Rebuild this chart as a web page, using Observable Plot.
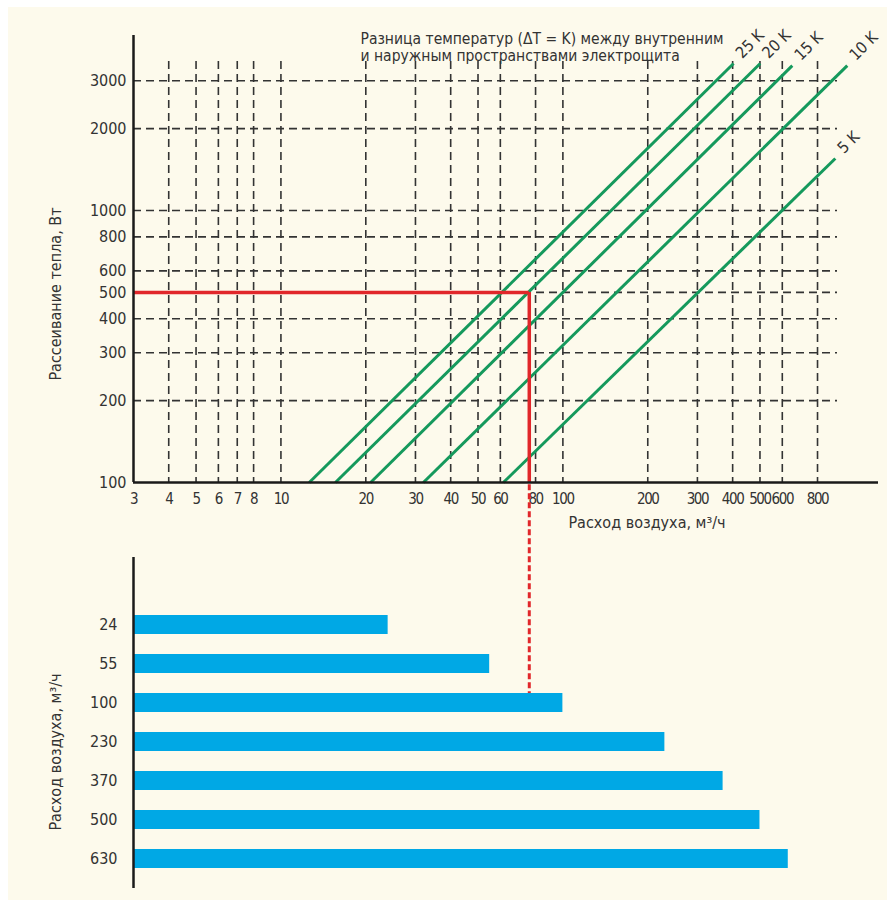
<!DOCTYPE html>
<html>
<head>
<meta charset="utf-8">
<script src="https://cdn.jsdelivr.net/npm/d3@7"></script>
<script src="https://cdn.jsdelivr.net/npm/@observablehq/plot@0.6"></script>
<style>
  html, body { margin: 0; padding: 0; background: #ffffff; }
  #page { position: relative; width: 887px; height: 900px; overflow: hidden; }
  #bg { position: absolute; left: 8px; top: 7px; right: 0; bottom: 0; background: #fdfaec; }
  #top, #bottom { position: absolute; left: 0; }
  #top { top: 0; }
  #bottom { top: 484px; }
  svg { overflow: visible; }
  text[aria-label="x-tick-label"] { letter-spacing: -1.4px; }
</style>
</head>
<body>
<div id="page"><div id="bg"></div><div id="top"></div><div id="bottom"></div></div>
<script>
// ---------- data ----------
const xTicks = [3, 4, 5, 6, 7, 8, 10, 20, 30, 40, 50, 60, 80, 100, 200, 300, 400, 500, 600, 800];
const xGrid = [4, 5, 6, 7, 8, 10, 20, 30, 40, 50, 60, 80, 100, 200, 300, 400, 500, 600, 800];
const yTicks = [100, 200, 300, 400, 500, 600, 800, 1000, 2000, 3000];
const yGrid = [200, 300, 400, 500, 600, 800, 1000, 2000, 3000];

// green ΔT lines: start at 100 W, end points
const deltaT    = [25, 20, 15, 10, 5];
const flowStart = [12.6, 15.6, 20.8, 32, 61.5];
const flowEnd   = [403, 501, 651, 1020, 925];
const heatStart = [100, 100, 100, 100, 100];
const heatEnd   = [3470, 3470, 3410, 3410, 1553];

// example: 500 W at ΔT = 20 K → ~76 m³/h
const exampleHeat = 500;
const exampleFlow = 76;

// fans: air flow ratings, m³/h
const fanFlows = [24, 55, 100, 230, 370, 500, 630];
const fanPick = "100";

const titleLines = ["Разница температур (ΔT = K) между внутренним", "и наружным пространствами электрощита"];
const yLabelTop = "Рассеивание тепла, Вт";
const xLabelTop = "Расход воздуха, м³/ч";
const yLabelBottom = "Расход воздуха, м³/ч";

// ---------- styles ----------
const FONT = "'Liberation Sans Narrow', 'Arial Narrow', 'DejaVu Sans Condensed', sans-serif";
const INK = "#333333";
const GREEN = "#15995c";
const RED = "#e1272b";
const BLUE = "#00a8e5";
const xDomain = [3, 1274];
const TICK = 16;

const lines = deltaT.map((d, i) => ({dT: d, x1: flowStart[i], x2: flowEnd[i], y1: heatStart[i], y2: heatEnd[i]}));

const topPlot = Plot.plot({
  width: 887, height: 545,
  marginLeft: 133, marginRight: 13, marginTop: 35, marginBottom: 63,
  style: {background: "transparent", fontFamily: FONT, fontSize: "16px", color: INK, overflow: "visible"},
  x: {type: "log", domain: xDomain, axis: null},
  y: {type: "log", domain: [100, 4400]},
  marks: [
    Plot.ruleX(xGrid, {stroke: INK, strokeWidth: 1.6, strokeDasharray: "8,5", insetTop: 26}),
    Plot.ruleY(yGrid, {stroke: INK, strokeWidth: 1.6, strokeDasharray: "8,5", insetRight: 37}),
    Plot.link(lines, {x1: "x1", y1: "y1", x2: "x2", y2: "y2", stroke: GREEN, strokeWidth: 3}),
    Plot.text(lines, {x: "x2", y: "y2", text: d => `${d.dT} K`, rotate: -45, textAnchor: "start", dx: 5, dy: -8, fontSize: 16, fill: INK}),
    Plot.ruleY([exampleHeat], {x1: xDomain[0], x2: exampleFlow, stroke: RED, strokeWidth: 3.5}),
    Plot.ruleX([exampleFlow], {y1: exampleHeat, y2: 100, stroke: RED, strokeWidth: 3.5}),
    Plot.ruleX([xDomain[0]], {stroke: "#1a1a1a", strokeWidth: 2.5}),
    Plot.ruleY([100], {stroke: "#1a1a1a", strokeWidth: 2.5, insetRight: -4}),
    Plot.text(xTicks, {x: d => d, text: d => String(d), frameAnchor: "bottom", lineAnchor: "top", dy: 11, fontSize: 15, fill: INK, ariaLabel: () => "x-tick-label"}),
    Plot.axisY(yTicks, {tickSize: 0, tickPadding: 7, tickFormat: d => String(d), label: null, fontSize: TICK, fill: INK}),
    Plot.text([titleLines.join("\n")], {frameAnchor: "top-left", textAnchor: "start", lineAnchor: "top", dx: 227, dy: -4, fontSize: 15.5, lineHeight: 1.1, fill: INK}),
    Plot.text([yLabelTop], {frameAnchor: "left", textAnchor: "middle", rotate: -90, dx: -78, dy: 35, fontSize: 16, fill: INK}),
    Plot.text([xLabelTop], {frameAnchor: "bottom", textAnchor: "middle", dx: 143, dy: 45, fontSize: 16, fill: INK})
  ]
});
document.getElementById("top").append(topPlot);

const yBottom = {type: "band", domain: fanFlows.map(String), range: [120.5, 393.5], paddingInner: 0.52, paddingOuter: 0.26};
const pickTop = d3.scaleBand().domain(yBottom.domain).range(yBottom.range)
  .paddingInner(yBottom.paddingInner).paddingOuter(yBottom.paddingOuter)(fanPick);

const bottomPlot = Plot.plot({
  width: 887, height: 416,
  marginLeft: 133, marginRight: 13, marginTop: 73, marginBottom: 12,
  style: {background: "transparent", fontFamily: FONT, fontSize: "16px", color: INK, overflow: "visible"},
  x: {type: "log", domain: xDomain, axis: null},
  y: yBottom,
  marks: [
    // dashed connector from the top chart down to the chosen fan's bar
    Plot.ruleX([exampleFlow], {y1: () => fanPick, y2: () => fanPick, insetTop: -pickTop, stroke: RED, strokeWidth: 3, strokeDasharray: "6,3"}),
    Plot.barX(fanFlows, {x1: xDomain[0], x2: d => d, y: d => String(d), fill: BLUE}),
    Plot.ruleX([xDomain[0]], {stroke: "#1a1a1a", strokeWidth: 2.5}),
    Plot.axisY({tickSize: 0, tickPadding: 16, label: null, fontSize: TICK, fill: INK}),
    Plot.text([yLabelBottom], {frameAnchor: "left", textAnchor: "middle", rotate: -90, dx: -78, dy: 29, fontSize: 16, fill: INK})
  ]
});
document.getElementById("bottom").append(bottomPlot);
</script>
</body>
</html>
